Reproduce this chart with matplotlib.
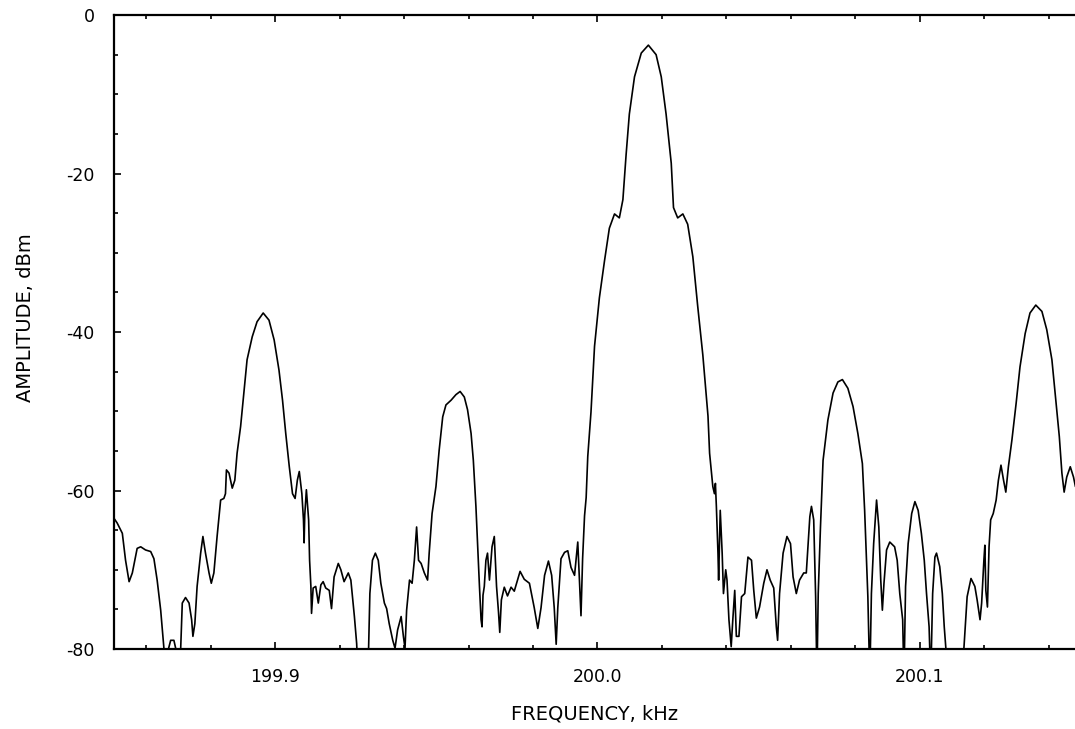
import numpy as np
import matplotlib
matplotlib.use("Agg")
import matplotlib.pyplot as plt
from matplotlib.ticker import MultipleLocator, FormatStrFormatter

plt.rcParams.update({"font.family": "DejaVu Sans", "axes.unicode_minus": False})

# spectrum trace (kHz, dBm); -84 marks points below the -80 floor
freq = [
    199.8500, 199.8510, 199.8526, 199.8536, 199.8547, 199.8557, 199.8572, 199.8583, 199.8598, 199.8614,
    199.8624, 199.8634, 199.8645, 199.8655, 199.8661, 199.8669, 199.8676, 199.8686, 199.8692, 199.8699,
    199.8707, 199.8712, 199.8722, 199.8733, 199.8741, 199.8745, 199.8751, 199.8758, 199.8769, 199.8776,
    199.8784, 199.8795, 199.8802, 199.8810, 199.8820, 199.8831, 199.8841, 199.8846, 199.8849, 199.8857,
    199.8867, 199.8875, 199.8882, 199.8893, 199.8903, 199.8913, 199.8929, 199.8944, 199.8963, 199.8981,
    199.8997, 199.9012, 199.9023, 199.9033, 199.9044, 199.9054, 199.9062, 199.9069, 199.9075, 199.9083,
    199.9088, 199.9090, 199.9092, 199.9097, 199.9104, 199.9107, 199.9111, 199.9113, 199.9118, 199.9126,
    199.9134, 199.9142, 199.9149, 199.9157, 199.9168, 199.9175, 199.9183, 199.9196, 199.9204, 199.9214,
    199.9227, 199.9235, 199.9246, 199.9253, 199.9258, 199.9286, 199.9290, 199.9294, 199.9302, 199.9311,
    199.9320, 199.9328, 199.9339, 199.9346, 199.9354, 199.9365, 199.9372, 199.9380, 199.9391, 199.9398,
    199.9403, 199.9408, 199.9417, 199.9425, 199.9432, 199.9439, 199.9445, 199.9453, 199.9463, 199.9473,
    199.9478, 199.9487, 199.9499, 199.9509, 199.9520, 199.9530, 199.9546, 199.9561, 199.9574, 199.9587,
    199.9597, 199.9608, 199.9615, 199.9623, 199.9634, 199.9639, 199.9642, 199.9645, 199.9649, 199.9654,
    199.9659, 199.9665, 199.9673, 199.9680, 199.9687, 199.9693, 199.9697, 199.9702, 199.9711, 199.9721,
    199.9732, 199.9742, 199.9760, 199.9773, 199.9789, 199.9804, 199.9815, 199.9825, 199.9836, 199.9848,
    199.9858, 199.9866, 199.9872, 199.9877, 199.9887, 199.9898, 199.9908, 199.9918, 199.9929, 199.9939,
    199.9944, 199.9949, 199.9954, 199.9960, 199.9965, 199.9970, 199.9980, 199.9991, 200.0006, 200.0022,
    200.0037, 200.0053, 200.0068, 200.0079, 200.0089, 200.0099, 200.0115, 200.0136, 200.0158, 200.0182,
    200.0198, 200.0213, 200.0229, 200.0236, 200.0249, 200.0265, 200.0280, 200.0296, 200.0311, 200.0327,
    200.0343, 200.0348, 200.0358, 200.0363, 200.0366, 200.0369, 200.0374, 200.0376, 200.0381, 200.0387,
    200.0391, 200.0398, 200.0402, 200.0408, 200.0415, 200.0420, 200.0426, 200.0431, 200.0439, 200.0447,
    200.0457, 200.0467, 200.0478, 200.0485, 200.0493, 200.0503, 200.0516, 200.0526, 200.0536, 200.0547,
    200.0555, 200.0559, 200.0565, 200.0576, 200.0588, 200.0599, 200.0607, 200.0617, 200.0627, 200.0640,
    200.0648, 200.0653, 200.0659, 200.0664, 200.0671, 200.0677, 200.0681, 200.0685, 200.0692, 200.0700,
    200.0715, 200.0731, 200.0746, 200.0760, 200.0777, 200.0793, 200.0808, 200.0822, 200.0829, 200.0839,
    200.0845, 200.0850, 200.0857, 200.0866, 200.0873, 200.0879, 200.0884, 200.0889, 200.0897, 200.0907,
    200.0922, 200.0930, 200.0938, 200.0947, 200.0951, 200.0956, 200.0964, 200.0975, 200.0985, 200.0995,
    200.1005, 200.1014, 200.1021, 200.1029, 200.1034, 200.1040, 200.1047, 200.1052, 200.1062, 200.1070,
    200.1076, 200.1081, 200.1087, 200.1130, 200.1137, 200.1147, 200.1159, 200.1171, 200.1178, 200.1187,
    200.1192, 200.1199, 200.1202, 200.1205, 200.1210, 200.1215, 200.1220, 200.1228, 200.1237, 200.1244,
    200.1252, 200.1260, 200.1267, 200.1275, 200.1286, 200.1299, 200.1311, 200.1327, 200.1342, 200.1360,
    200.1379, 200.1394, 200.1410, 200.1422, 200.1433, 200.1441, 200.1448, 200.1456, 200.1467, 200.1477,
    200.1483, 200.1500,
]
amp = [
    -63.5, -64.1, -65.4, -68.8, -71.5, -70.4, -67.3, -67.1, -67.5, -67.7,
    -68.6, -71.3, -75.1, -79.9, -84.0, -80.0, -78.9, -78.9, -80.0, -84.0,
    -80.0, -74.2, -73.5, -74.2, -76.3, -78.4, -76.8, -72.1, -67.9, -65.8,
    -67.9, -70.4, -71.7, -70.4, -65.8, -61.2, -61.0, -60.4, -57.4, -57.8,
    -59.7, -58.7, -55.3, -51.9, -47.7, -43.5, -40.6, -38.7, -37.6, -38.5,
    -41.0, -44.8, -48.6, -52.8, -57.0, -60.4, -61.0, -58.7, -57.6, -60.4,
    -63.7, -66.6, -63.1, -59.9, -63.7, -68.8, -72.1, -75.5, -72.3, -72.1,
    -74.2, -71.9, -71.5, -72.3, -72.6, -74.9, -70.9, -69.2, -70.0, -71.5,
    -70.4, -71.3, -75.9, -79.3, -84.0, -84.0, -80.0, -73.0, -68.8, -67.9,
    -68.8, -71.7, -74.2, -74.9, -76.8, -78.9, -79.9, -77.6, -75.9, -78.4,
    -79.9, -75.1, -71.3, -71.7, -68.8, -64.6, -68.8, -69.2, -70.4, -71.3,
    -67.9, -62.9, -59.5, -54.9, -50.7, -49.2, -48.6, -47.9, -47.5, -48.2,
    -49.8, -52.8, -56.2, -62.0, -72.1, -76.3, -77.2, -73.2, -72.1, -68.8,
    -67.9, -71.3, -67.1, -65.8, -72.1, -75.3, -77.9, -73.8, -72.2, -73.3,
    -72.2, -72.7, -70.2, -71.2, -71.7, -74.8, -77.4, -74.8, -70.7, -68.9,
    -70.7, -74.8, -79.4, -74.8, -68.6, -67.8, -67.6, -69.7, -70.7, -66.5,
    -71.2, -75.8, -68.6, -63.2, -60.9, -55.7, -50.1, -41.8, -35.7, -31.0,
    -26.9, -25.1, -25.6, -23.3, -17.6, -12.5, -7.8, -4.8, -3.8, -5.0,
    -7.8, -12.5, -18.7, -24.3, -25.6, -25.1, -26.4, -30.5, -36.7, -42.9,
    -50.6, -55.3, -59.5, -60.4, -59.1, -62.0, -67.9, -71.3, -62.5, -67.9,
    -73.0, -70.0, -71.3, -76.3, -79.7, -76.3, -72.6, -78.4, -78.4, -73.4,
    -73.0, -68.4, -68.8, -72.6, -76.1, -74.7, -71.7, -70.0, -71.3, -72.3,
    -77.2, -78.9, -73.0, -67.9, -65.8, -66.7, -70.9, -73.0, -71.3, -70.4,
    -70.4, -67.1, -63.3, -62.0, -63.7, -73.4, -84.0, -73.0, -64.6, -56.2,
    -51.1, -47.7, -46.3, -46.0, -47.1, -49.4, -52.8, -56.6, -62.5, -73.4,
    -84.0, -73.0, -66.7, -61.2, -64.6, -71.3, -75.1, -71.7, -67.5, -66.5,
    -67.1, -68.8, -73.0, -76.3, -84.0, -72.1, -66.7, -62.9, -61.4, -62.5,
    -65.4, -68.8, -73.0, -77.2, -84.0, -73.0, -68.4, -67.9, -69.6, -73.0,
    -77.2, -79.9, -84.0, -84.0, -79.9, -73.4, -71.1, -72.1, -73.8, -76.3,
    -74.2, -68.8, -66.9, -72.6, -74.7, -67.1, -63.7, -62.9, -61.2, -58.7,
    -56.8, -58.7, -60.2, -57.0, -53.6, -49.0, -44.4, -40.2, -37.6, -36.6,
    -37.4, -39.7, -43.5, -48.6, -53.2, -57.8, -60.2, -58.3, -57.0, -58.3,
    -59.5, -60.0,
]

fig = plt.figure(figsize=(10.75, 7.29), dpi=100)
# right spine sits just past the edge of the original scan
ax = fig.add_axes([0.1060, 0.1097, 0.8995, 0.8697])
ax.plot(freq, amp, color="black", lw=1.2)

ax.set_xlim(199.85, 200.15)
ax.set_ylim(-80, 0)
ax.xaxis.set_major_locator(MultipleLocator(0.1))
ax.xaxis.set_minor_locator(MultipleLocator(0.02))
ax.xaxis.set_major_formatter(FormatStrFormatter("%.1f"))
ax.yaxis.set_major_locator(MultipleLocator(20))
ax.yaxis.set_minor_locator(MultipleLocator(5))
ax.tick_params(which="both", direction="in", top=True, right=False, labelsize=12.5, width=1.2)
ax.tick_params(which="major", length=5, pad=14)
ax.tick_params(which="minor", length=3)
for s in ax.spines.values():
    s.set_linewidth(1.6)

ax.set_xlabel("FREQUENCY, kHz", fontsize=14)
ax.set_ylabel("AMPLITUDE, dBm", fontsize=14)
ax.xaxis.set_label_coords(0.497, -0.088)
ax.yaxis.set_label_coords(-0.082, 0.523)

fig.savefig("out.png", dpi=100)
